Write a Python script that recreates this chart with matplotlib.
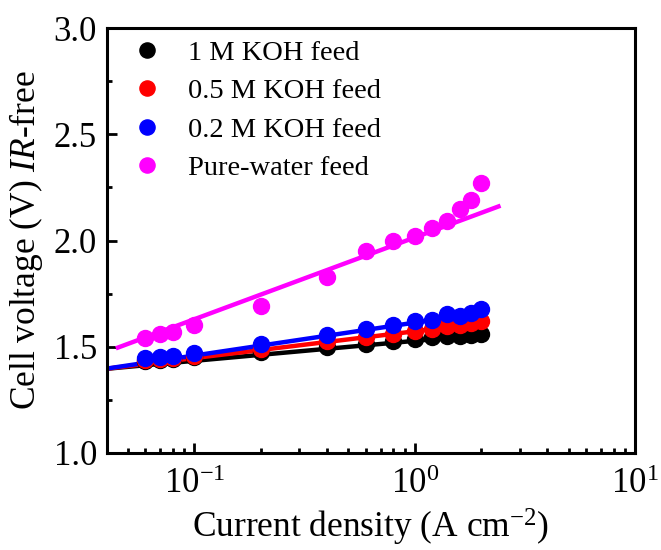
import numpy as np
import matplotlib
matplotlib.use("Agg")
import matplotlib.pyplot as plt
from matplotlib.ticker import LogLocator, MultipleLocator, NullFormatter

plt.rcParams['font.family'] = ['Liberation Serif', 'DejaVu Serif']
plt.rcParams['mathtext.fontset'] = 'custom'
plt.rcParams['mathtext.rm'] = 'Liberation Serif'
plt.rcParams['mathtext.it'] = 'Liberation Serif:italic'

current = [0.06, 0.07, 0.08, 0.1, 0.2, 0.4, 0.6, 0.8, 1.0, 1.2, 1.4, 1.6, 1.8, 2.0]
koh_1m = [1.43, 1.435, 1.44, 1.45, 1.475, 1.50, 1.51, 1.525, 1.535, 1.545, 1.55, 1.55, 1.555, 1.56]
koh_05m = [1.435, 1.44, 1.445, 1.455, 1.49, 1.525, 1.545, 1.56, 1.575, 1.585, 1.595, 1.60, 1.61, 1.62]
koh_02m = [1.446, 1.45, 1.455, 1.47, 1.51, 1.556, 1.585, 1.60, 1.62, 1.625, 1.655, 1.645, 1.66, 1.677]
pure_water = [1.54, 1.56, 1.57, 1.60, 1.69, 1.83, 1.95, 2.00, 2.02, 2.06, 2.09, 2.15, 2.19, 2.27]

labels = ['1 M KOH feed', '0.5 M KOH feed', '0.2 M KOH feed', 'Pure-water feed']
colors = ['black', 'red', 'blue', '#ff00ff']
series = [koh_1m, koh_05m, koh_02m, pure_water]

# Linear fits V = a + b*log10(j)
fit_intercept = [1.527, 1.572, 1.613, 2.014]   # V at 1 A cm^-2
fit_slope = [0.094, 0.126, 0.155, 0.385]       # V per decade
fit_start = [0.04, 0.04, 0.04, 0.045]
fit_end = [2.05, 2.05, 2.05, 2.4]

fig = plt.figure(figsize=(6.61, 5.5), dpi=100)
L, R, T, B = 106.7, 635, 28.3, 452.7
ax = fig.add_axes([L/661, 1 - B/550, (R-L)/661, (B-T)/550])

for a, b, x0, x1, c in zip(fit_intercept, fit_slope, fit_start, fit_end, colors):
    xf = np.logspace(np.log10(x0), np.log10(x1), 50)
    ax.plot(xf, a + b*np.log10(xf), color=c, lw=3.2, zorder=2)

for ys, c, lab in zip(series, colors, labels):
    ax.plot(current, ys, 'o', color=c, ms=11.5, label=lab, zorder=3)

ax.set_xscale('log')
ax.set_xlim(0.04, 10)
ax.set_ylim(1.0, 3.0)
ax.yaxis.set_major_locator(MultipleLocator(0.5))
ax.yaxis.set_minor_locator(MultipleLocator(0.25))
ax.xaxis.set_minor_locator(LogLocator(base=10, subs=np.arange(2, 10)))
ax.xaxis.set_minor_formatter(NullFormatter())

ax.tick_params(which='both', direction='in', top=False, right=False, labelsize=25, width=2)
ax.tick_params(which='major', length=7)
ax.tick_params(which='minor', length=3.5)
ax.tick_params(axis='y', which='major', pad=7)
ax.tick_params(axis='x', which='major', pad=11)
for s in ax.spines.values():
    s.set_linewidth(2.2)

ax.set_xlabel('Current density (A cm$^{-2}$)', fontsize=25.5, labelpad=4)
ax.set_ylabel('Cell voltage (V) $\\mathit{IR}$-free', fontsize=25.5, labelpad=6)

ax.legend(loc='upper left', frameon=False, fontsize=20.5, handletextpad=0.65,
          borderaxespad=0.0, borderpad=0.0, labelspacing=0.44, markerscale=0.95,
          handlelength=1.6, bbox_to_anchor=(124/661, 1 - 40/550),
          bbox_transform=fig.transFigure)

fig.savefig('out.png', dpi=100)
